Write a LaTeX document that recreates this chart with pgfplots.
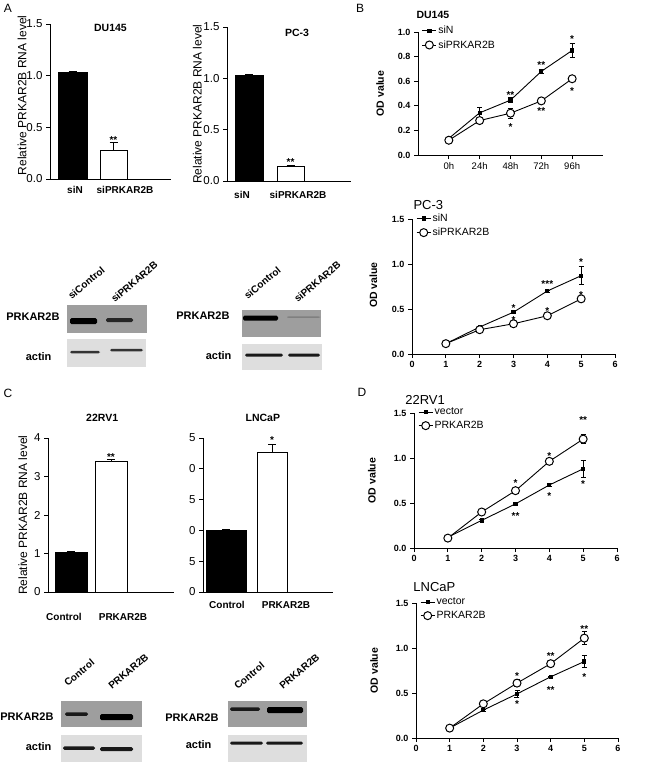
\documentclass[border=0pt]{standalone}
\usepackage{fontspec}
\setmainfont{Liberation Sans}
\usepackage{pgfplots}
\pgfplotsset{compat=1.18}
\newcommand{\fs}[1]{\fontsize{#1}{#1}\selectfont}
\definecolor{blotdark}{gray}{0.62}
\definecolor{blotlight}{gray}{0.87}
\newcommand{\band}[5]{\fill[#5, rounded corners=1.5pt] ({#1pt},{-#3pt-#4pt/2}) rectangle ({#2pt},{-#3pt+#4pt/2});}
\newcommand{\st}[3]{\node[font=\bfseries\fs{10}, inner sep=0pt, yshift=-2.5pt] at (axis cs:#1,#2) {#3};}
\pgfplotsset{
  prism/.style={scale only axis, anchor=south west, clip=false,
    axis x line*=bottom, axis y line*=left,
    axis line style={line width=0.9pt,-},
    tick align=outside, major tick length=4pt,
    tick style={line width=0.9pt, black},
    /pgf/number format/assume math mode=true},
  onedec/.style={yticklabel style={/pgf/number format/fixed,/pgf/number format/fixed zerofill,/pgf/number format/precision=1}},
  barplot/.style={prism, onedec, x tick style={draw=none},
    xticklabel style={font=\bfseries\fs{10}}, yticklabel style={font=\fs{11.5}},
    ylabel style={font=\fs{12}}},
  linplot/.style={prism, onedec, xmin=0, xmax=6, xtick={0,...,6},
    xticklabel style={font=\bfseries\fs{9}}, yticklabel style={font=\bfseries\fs{9}},
    ylabel={OD value}, ylabel style={font=\bfseries\fs{10.5}},
    legend style={draw=none, fill=none, inner sep=0pt, row sep=2pt,
      nodes={inner sep=1.5pt, font=\fs{10.5}}, anchor=north west},
    legend cell align=left,
    legend image code/.code={\draw[mark repeat=2,mark phase=2,##1] plot coordinates {(0pt,0pt) (7pt,0pt) (14pt,0pt)};}},
  barerr/.style={error bars/y dir=plus, error bars/y explicit,
    error bars/error bar style={line width=0.9pt},
    error bars/error mark options={rotate=90, mark size=4pt, line width=0.9pt}},
  lineerr/.style={error bars/y dir=both, error bars/y explicit,
    error bars/error bar style={line width=0.8pt},
    error bars/error mark options={rotate=90, mark size=2.5pt, line width=0.8pt}},
  blackbar/.style={ybar, bar shift=0pt, fill=black, draw=black, barerr},
  whitebar/.style={ybar, bar shift=0pt, fill=white, draw=black, line width=1pt, barerr},
  sqline/.style={black, line width=0.9pt, mark=square*, mark size=1.6pt, lineerr},
  ciline/.style={black, line width=0.9pt, mark=*, mark size=4pt, mark options={fill=white, line width=1pt}, lineerr},
}
\begin{document}
\begin{tikzpicture}
\useasboundingbox (0pt,0pt) rectangle (650pt,-764pt);
% panel letters
\node[font=\fs{12}] at (8pt,-8pt) {A};
\node[font=\fs{12}] at (360pt,-8pt) {B};
\node[font=\fs{12}] at (8pt,-393pt) {C};
\node[font=\fs{12}] at (362pt,-392pt) {D};

% ---------- A: DU145 ----------
\begin{axis}[barplot, at={(50pt,-179pt)}, width=121pt, height=155pt,
  xmin=0, xmax=121, ymin=0, ymax=1.5, ytick={0,0.5,1,1.5},
  xtick={25,75}, xticklabels={siN,siPRKAR2B},
  ylabel={Relative PRKAR2B RNA level},
  ylabel style={at={(axis description cs:-0.23,0.54)}, anchor=center}]
\addplot[blackbar, bar width=29] coordinates {(22.5,1.03) +- (0,0.01)};
\addplot[whitebar, bar width=27] coordinates {(63.5,0.28) +- (0,0.07)};
\st{63.5}{0.40}{**}
\node[font=\bfseries\fs{10.5}] at (rel axis cs:0.5,0.975) {DU145};
\end{axis}

% ---------- A: PC-3 ----------
\begin{axis}[barplot, at={(227pt,-181pt)}, width=124pt, height=154pt,
  xmin=0, xmax=124, ymin=0, ymax=1.5, ytick={0,0.5,1,1.5},
  xtick={15,71}, xticklabels={siN,siPRKAR2B},
  xticklabel style={yshift=-3pt},
  ylabel={Relative PRKAR2B RNA level},
  ylabel style={at={(axis description cs:-0.24,0.5)}, anchor=center}]
\addplot[blackbar, bar width=28] coordinates {(22,1.03) +- (0,0.01)};
\addplot[whitebar, bar width=27] coordinates {(63.5,0.14) +- (0,0.015)};
\st{63.5}{0.21}{**}
\node[font=\bfseries\fs{10.5}] at (rel axis cs:0.565,0.96) {PC-3};
\end{axis}

% ---------- C: 22RV1 ----------
\begin{axis}[barplot, at={(48pt,-592pt)}, width=126pt, height=154pt,
  xmin=0, xmax=126, ymin=0, ymax=4, ytick={0,1,2,3,4},
  yticklabel style={/pgf/number format/precision=0},
  xtick={16,75}, xticklabels={Control,PRKAR2B},
  xticklabel style={yshift=-14pt},
  ylabel={Relative PRKAR2B RNA level},
  ylabel style={at={(axis description cs:-0.2,0.5)}, anchor=center}]
\addplot[blackbar, bar width=32] coordinates {(23,1.03) +- (0,0.02)};
\addplot[whitebar, bar width=32] coordinates {(63,3.39) +- (0,0.05)};
\st{63}{3.58}{**}
\node[font=\bfseries\fs{10.5}] at (rel axis cs:0.43,1.13) {22RV1};
\end{axis}

% ---------- C: LNCaP ----------
\begin{axis}[barplot, at={(203pt,-592pt)}, width=130pt, height=154pt,
  xmin=0, xmax=130, ymin=0, ymax=25, ytick={0,5,10,15,20,25},
  yticklabels={0,5,0,5,0,5},
  xtick={24,83}, xticklabels={Control,PRKAR2B},
  xticklabel style={yshift=-2pt}]
\addplot[blackbar, bar width=40] coordinates {(23,10.0) +- (0,0.15)};
\addplot[whitebar, bar width=30] coordinates {(69,22.7) +- (0,1.2)};
\st{69}{25.0}{*}
\node[font=\bfseries\fs{10.5}] at (rel axis cs:0.46,1.13) {LNCaP};
\end{axis}

% ---------- B: DU145 ----------
\begin{axis}[linplot, at={(418pt,-155pt)}, width=185pt, height=123pt,
  ymin=0, ymax=1.0, ytick={0,0.2,0.4,0.6,0.8,1.0},
  xtick={1,2,3,4,5}, xticklabels={0h,24h,48h,72h,96h},
  xticklabel style={font=\fs{9.5}},
  ylabel style={at={(axis description cs:-0.205,0.5)}, anchor=center},
  legend style={at={(0.02,1.06)}}]
\addplot[sqline] coordinates {(1,0.135) +- (0,0.01) (2,0.343) +- (0,0.04) (3,0.446) +- (0,0.02) (4,0.68) +- (0,0.015) (5,0.85) +- (0,0.06)};
\addplot[ciline] coordinates {(1,0.12) +- (0,0.01) (2,0.28) +- (0,0.01) (3,0.34) +- (0,0.04) (4,0.44) +- (0,0.01) (5,0.62) +- (0,0.01)};
\legend{siN,siPRKAR2B}
\st{3}{0.505}{**} \st{3}{0.25}{*}
\st{4}{0.75}{**} \st{4}{0.378}{**}
\st{5}{0.96}{*} \st{5}{0.54}{*}
\node[font=\bfseries\fs{10.5}, anchor=west] at (rel axis cs:-0.027,1.138) {DU145};
\end{axis}

% ---------- B: PC-3 ----------
\begin{axis}[linplot, at={(412pt,-354pt)}, width=203pt, height=135pt,
  ymin=0, ymax=1.5, ytick={0,0.5,1.0,1.5},
  ylabel style={at={(axis description cs:-0.19,0.51)}, anchor=center},
  legend style={at={(0.02,1.05)}}]
\addplot[sqline] coordinates {(1,0.115) +- (0,0.01) (2,0.30) +- (0,0.01) (3,0.465) +- (0,0.01) (4,0.70) +- (0,0.01) (5,0.87) +- (0,0.1)};
\addplot[ciline] coordinates {(1,0.115) +- (0,0.01) (2,0.27) +- (0,0.01) (3,0.336) +- (0,0.03) (4,0.425) +- (0,0.015) (5,0.613) +- (0,0.015)};
\legend{siN,siPRKAR2B}
\st{3}{0.535}{*} \st{3}{0.41}{*}
\st{4}{0.81}{***} \st{4}{0.51}{*}
\st{5}{1.045}{*} \st{5}{0.68}{*}
\node[font=\fs{13}, anchor=west] at (rel axis cs:-0.01,1.104) {PC-3};
\end{axis}

% ---------- D: 22RV1 ----------
\begin{axis}[linplot, at={(414pt,-548pt)}, width=203pt, height=135pt,
  ymin=0, ymax=1.5, ytick={0,0.5,1.0,1.5},
  ylabel style={at={(axis description cs:-0.207,0.5)}, anchor=center},
  legend style={at={(0.02,1.05)}}]
\addplot[sqline] coordinates {(1,0.12) +- (0,0.01) (2,0.307) +- (0,0.01) (3,0.49) +- (0,0.01) (4,0.70) +- (0,0.02) (5,0.88) +- (0,0.09)};
\addplot[ciline] coordinates {(1,0.11) +- (0,0.01) (2,0.40) +- (0,0.01) (3,0.637) +- (0,0.03) (4,0.963) +- (0,0.01) (5,1.21) +- (0,0.05)};
\legend{vector,PRKAR2B}
\st{3}{0.75}{*} \st{3}{0.38}{**}
\st{4}{1.05}{*} \st{4}{0.61}{*}
\st{5}{1.45}{**} \st{5}{0.74}{*}
\node[font=\fs{13}, anchor=west] at (rel axis cs:-0.06,1.096) {22RV1};
\end{axis}

% ---------- D: LNCaP ----------
\begin{axis}[linplot, at={(416pt,-738pt)}, width=202pt, height=135pt,
  ymin=0, ymax=1.5, ytick={0,0.5,1.0,1.5},
  ylabel style={at={(axis description cs:-0.207,0.5)}, anchor=center},
  legend style={at={(0.02,1.05)}}]
\addplot[sqline] coordinates {(1,0.11) +- (0,0.01) (2,0.31) +- (0,0.01) (3,0.49) +- (0,0.04) (4,0.68) +- (0,0.01) (5,0.85) +- (0,0.07)};
\addplot[ciline] coordinates {(1,0.11) +- (0,0.01) (2,0.38) +- (0,0.01) (3,0.61) +- (0,0.04) (4,0.826) +- (0,0.01) (5,1.11) +- (0,0.07)};
\legend{vector,PRKAR2B}
\st{3}{0.72}{*} \st{3}{0.40}{*}
\st{4}{0.94}{**} \st{4}{0.555}{**}
\st{5}{1.24}{**} \st{5}{0.71}{*}
\node[font=\fs{13}, anchor=west] at (rel axis cs:-0.03,1.119) {LNCaP};
\end{axis}

% ---------- Western blots ----------
% A left
\fill[blotdark] (67pt,-305pt) rectangle (147pt,-333pt);
\fill[blotlight] (67pt,-339pt) rectangle (146pt,-367pt);
\band{70}{97}{321}{6}{black}
\band{106}{133}{320}{4}{black!85}
\band{70}{100}{352}{2.5}{black!80}
\band{110}{143}{350}{2.5}{black!80}
\node[font=\bfseries\fs{11}, anchor=east] at (63pt,-317pt) {PRKAR2B};
\node[font=\bfseries\fs{11}, anchor=east] at (55pt,-357pt) {actin};
\node[font=\bfseries\fs{10}, rotate=40, anchor=south west, inner sep=0pt] at (72pt,-300pt) {siControl};
\node[font=\bfseries\fs{10}, rotate=40, anchor=south west, inner sep=0pt] at (115pt,-303pt) {siPRKAR2B};
% A right
\fill[blotdark] (242pt,-310pt) rectangle (321pt,-337pt);
\fill[blotlight] (242pt,-344pt) rectangle (322pt,-370pt);
\band{243}{278}{318}{5}{black}
\band{287}{320}{317}{1.5}{black!50}
\band{245}{283}{355}{3}{black!90}
\band{288}{320}{355}{3}{black!90}
\node[font=\bfseries\fs{11}, anchor=east] at (233pt,-316pt) {PRKAR2B};
\node[font=\bfseries\fs{11}, anchor=east] at (235pt,-356pt) {actin};
\node[font=\bfseries\fs{10}, rotate=40, anchor=south west, inner sep=0pt] at (248pt,-300pt) {siControl};
\node[font=\bfseries\fs{10}, rotate=40, anchor=south west, inner sep=0pt] at (298pt,-303pt) {siPRKAR2B};
% C left
\fill[blotdark] (61pt,-701pt) rectangle (142pt,-727pt);
\fill[blotlight] (61pt,-735pt) rectangle (142pt,-762pt);
\band{65}{88}{714}{3.5}{black!90}
\band{100}{133}{717}{6}{black}
\band{63}{95}{748}{3.5}{black!90}
\band{100}{133}{749}{4}{black!90}
\node[font=\bfseries\fs{11}, anchor=east] at (57pt,-717pt) {PRKAR2B};
\node[font=\bfseries\fs{11}, anchor=east] at (55pt,-747pt) {actin};
\node[font=\bfseries\fs{10}, rotate=40, anchor=south west, inner sep=0pt] at (68pt,-687pt) {Control};
\node[font=\bfseries\fs{10}, rotate=40, anchor=south west, inner sep=0pt] at (112pt,-690pt) {PRKAR2B};
% C right
\fill[blotdark] (228pt,-701pt) rectangle (307pt,-727pt);
\fill[blotlight] (228pt,-735pt) rectangle (307pt,-762pt);
\band{230}{260}{709}{3.5}{black!90}
\band{267}{303}{710}{6}{black}
\band{230}{263}{743}{3}{black!90}
\band{266}{303}{743}{3}{black!90}
\node[font=\bfseries\fs{11}, anchor=east] at (222pt,-718pt) {PRKAR2B};
\node[font=\bfseries\fs{11}, anchor=east] at (215pt,-745pt) {actin};
\node[font=\bfseries\fs{10}, rotate=40, anchor=south west, inner sep=0pt] at (238pt,-690pt) {Control};
\node[font=\bfseries\fs{10}, rotate=40, anchor=south west, inner sep=0pt] at (283pt,-690pt) {PRKAR2B};
\end{tikzpicture}
\end{document}
